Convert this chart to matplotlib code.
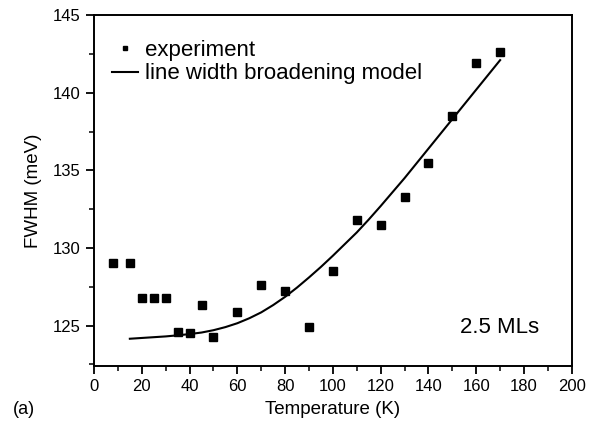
import numpy as np
import matplotlib.pyplot as plt

plt.rcParams['font.family'] = ['Liberation Sans', 'DejaVu Sans']

# experimental FWHM points
T_exp = [8, 15, 20, 25, 30, 35, 40, 45, 50, 60, 70, 80, 90, 100, 110, 120, 130, 140, 150, 160, 170]
fwhm_exp = [129.0, 129.0, 126.8, 126.8, 126.8, 124.6, 124.5, 126.3, 124.25, 125.9, 127.6, 127.2,
            124.9, 128.5, 131.8, 131.5, 133.3, 135.5, 138.5, 141.9, 142.65]

# line width broadening model
T_fit = [15, 20, 25, 30, 35, 40, 45, 50, 55, 60, 65, 70, 75, 80, 85, 90, 95, 100, 105, 110,
         115, 120, 125, 130, 135, 140, 145, 150, 155, 160, 165, 170]
fwhm_fit = [124.15, 124.2, 124.25, 124.3, 124.37, 124.45, 124.55, 124.7, 124.9, 125.15, 125.47,
            125.85, 126.32, 126.85, 127.45, 128.1, 128.78, 129.5, 130.25, 131.0, 131.83, 132.7,
            133.6, 134.5, 135.45, 136.4, 137.35, 138.3, 139.25, 140.2, 141.15, 142.1]

fig = plt.figure(figsize=(5.95, 4.32), dpi=100)
ax = fig.add_axes([0.158, 0.153, 0.803, 0.812])

ax.plot(T_exp, fwhm_exp, 's', color='black', markersize=5.5, label='experiment')
ax.plot(T_fit, fwhm_fit, '-', color='black', linewidth=1.5, label='line width broadening model')

ax.set_xlim(0, 200)
ax.set_ylim(122.4, 145)
ax.set_xticks(np.arange(0, 201, 20))
ax.set_xticks(np.arange(10, 200, 20), minor=True)
ax.set_yticks([125, 130, 135, 140, 145])
ax.set_yticks([122.5, 127.5, 132.5, 137.5, 142.5], minor=True)

for s in ax.spines.values():
    s.set_linewidth(1.4)
ax.tick_params(which='major', direction='out', length=6, width=1.3, labelsize=12)
ax.tick_params(which='minor', direction='out', length=3.5, width=1.1)

ax.set_xlabel('Temperature (K)', fontsize=13.5, labelpad=5)
ax.set_ylabel('FWHM (meV)', fontsize=13.5, labelpad=8)

leg = ax.legend(loc='upper left', bbox_to_anchor=(0.037, 0.93), frameon=False, fontsize=16,
                markerscale=0.65, handlelength=1.2, handletextpad=0.32, labelspacing=0.12,
                borderpad=0, borderaxespad=0)

ax.text(0.932, 0.109, '2.5 MLs', transform=ax.transAxes, ha='right', va='center', fontsize=16)
fig.text(0.022, 0.051, '(a)', fontsize=13, ha='left', va='center')

fig.savefig('out.png', dpi=100)
